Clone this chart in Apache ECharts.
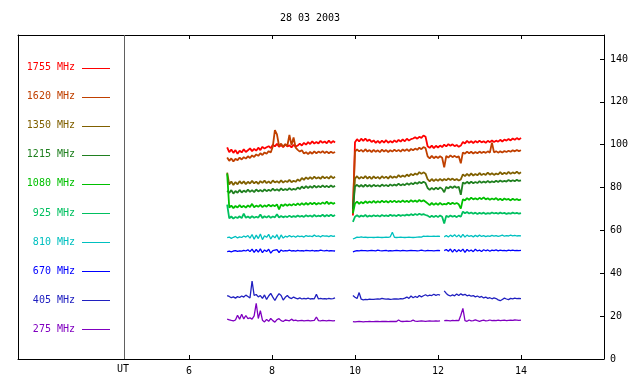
<!DOCTYPE html>
<html>
<head>
<meta charset="utf-8">
<script src="https://cdn.jsdelivr.net/npm/echarts@6/dist/echarts.min.js"></script>
<style>html,body{margin:0;padding:0;background:#fff}#c{width:640px;height:384px}</style>
</head>
<body>
<div id="c"></div>
<script>
// ---- data ----
const TITLE = '28 03 2003';
const X_TICKS = [6, 8, 10, 12, 14];
const Y_TICKS = [0, 20, 40, 60, 80, 100, 120, 140];
const UT_LINE = 4.44;
const SEG1_START = 6.92, SEG2_START = 9.95, STEP = 0.05; // sample times (hours UT)

const names = ['1755 MHz','1620 MHz','1350 MHz','1215 MHz','1080 MHz','925 MHz','810 MHz','670 MHz','405 MHz','275 MHz'];
const colors = ['#ff0000','#c04000','#806000','#208020','#00c000','#00c060','#00c0c0','#0000ff','#2020c0','#8000c0'];

const s1755a = [98.8,96.5,97.8,96.2,97.5,95.8,97.2,96.4,97.9,96.6, 97.4,98.3,97.0,98.1,97.2,98.6,97.5,99.0,98.2,98.8, 99.3,98.4,100.0,99.2,100.4,99.0,99.8,98.9,100.1,99.2, 99.7,98.8,99.9,99.1,99.6,100.5,99.6,100.9,100.0,101.2, 100.3,101.6,100.5,101.3,100.6,101.8,100.9,101.5,100.7,101.9, 100.8,101.7,101.0];
const s1755b = [67,101.2,102.6,101.5,102.8,101.8,102.9,101.7,102.4,101.3, 102.0,100.9,101.8,100.8,101.9,101.0,102.1,100.9,101.7,101.0, 102.0,101.2,102.3,101.4,102.5,101.6,102.8,101.9,102.6,102.9, 103.5,102.8,103.7,103.2,104.3,103.7,99.3,98.5,99.6,98.4, 99.5,98.7,99.6,98.9,100.0,99.2,100.3,99.5,100.2,99.3, 99.9,99.0,99.6,101.3,100.6,101.8,100.9,101.6,100.8,101.7, 101.0,101.9,101.1,101.6,100.9,101.8,101.2,102.0,101.3,101.9, 101.4,102.3,101.5,102.4,101.9,102.7,102.0,102.9,102.3,103.1, 102.4,103.2];

const s1620a = [94.0,92.5,93.6,92.2,93.4,92.8,94.0,93.1,94.2,93.5, 94.6,93.8,95.0,94.3,95.5,94.8,96.0,95.2,96.4,95.8, 97.0,96.4,99.2,106.8,104.8,99.4,100.5,99.1,100.3,99.5, 104.6,99.8,103.4,98.6,97.6,96.8,97.4,95.9,96.5,95.6, 96.6,95.8,96.9,96.0,96.8,96.2,97.0,96.1,96.8,96.0, 96.7,96.1,96.6];
const s1620b = [70,96.8,97.8,96.9,97.6,96.7,97.9,96.8,97.5,96.6, 97.6,96.7,97.4,96.5,97.7,96.8,97.5,96.6,97.4,96.8, 97.7,96.9,97.6,96.8,97.8,97.1,97.9,97.0,98.0,97.4, 98.2,97.6,98.6,97.9,98.9,98.4,94.6,93.6,94.8,93.7, 94.5,93.8,94.6,93.9,89.4,94.8,94.0,95.0,94.2,94.8, 94.1,94.6,91.3,96.4,95.8,96.8,96.0,96.7,95.9,96.6, 96.0,96.8,96.1,96.7,96.2,96.9,96.3,101.0,96.4,97.0, 96.3,96.9,96.4,97.1,96.6,97.2,96.7,97.4,96.9,97.5, 97.0,97.4];

const s1350a = [87.0,81.4,82.8,81.2,82.6,81.5,83.0,81.8,82.9,81.6, 82.7,81.9,83.1,82.0,82.8,81.7,83.0,82.2,83.2,82.1, 82.9,82.0,83.3,82.4,83.0,82.2,83.4,82.3,83.1,82.6, 83.6,82.5,83.2,82.7,83.8,83.1,84.5,83.6,84.8,83.9, 84.9,84.0,85.1,84.2,84.8,84.1,85.2,84.3,85.0,84.2, 85.3,84.4,85.0];
const s1350b = [68,84.2,85.3,84.1,85.0,84.3,85.4,84.2,85.1,84.0, 85.2,84.3,85.0,84.1,85.3,84.4,85.1,84.2,85.4,84.5, 85.2,84.6,85.8,84.9,85.6,85.0,86.1,85.3,86.4,85.7, 86.6,86.0,87.2,86.4,87.1,86.5,83.9,82.9,84.0,83.0, 83.9,83.1,84.1,83.2,84.0,83.4,84.3,83.5,84.2,83.4, 84.0,83.3,83.8,86.2,85.3,86.4,85.5,86.6,85.6,86.3, 85.7,86.8,85.8,86.5,85.9,87.0,86.0,86.7,85.9,86.6, 86.1,87.2,86.2,86.9,86.3,87.3,86.4,87.1,86.6,87.4, 86.5,87.1];

const s1215a = [78.6,77.5,78.8,77.2,78.4,77.6,78.9,77.7,78.6,77.9, 79.0,78.0,78.8,77.9,79.1,78.2,78.9,78.1,79.2,78.3, 79.0,78.4,79.5,78.6,79.2,78.5,79.6,78.7,79.3,78.8, 79.7,78.9,79.4,79.0,80.0,79.3,80.5,79.6,80.7,79.8, 80.6,79.9,80.9,80.0,80.7,80.1,81.0,80.2,80.8,80.1, 81.0,80.3,80.8];
const s1215b = [70,80.5,81.3,80.4,81.2,80.3,81.4,80.5,81.2,80.4, 81.3,80.6,81.1,80.5,81.4,80.7,81.2,80.6,81.5,80.8, 81.4,80.9,81.8,81.0,81.6,81.1,82.0,81.3,82.1,81.5, 82.4,81.8,82.6,82.0,82.7,82.1,79.8,78.9,79.9,79.0, 80.0,79.2,80.1,79.4,77.8,80.3,79.6,80.5,79.8,80.6, 79.9,80.4,76.6,82.4,81.8,82.7,81.9,82.8,82.0,82.6, 82.1,83.0,82.2,82.8,82.3,83.1,82.4,82.9,82.5,83.2, 82.6,83.3,82.7,83.1,82.8,83.5,82.9,83.4,83.0,83.6, 83.1,83.4];

const s1080a = [86.5,70.6,71.6,70.4,71.4,70.7,71.8,70.8,71.5,70.6, 71.7,70.9,72.4,70.8,71.6,71.0,71.9,70.9,71.7,71.1, 72.0,71.2,71.9,71.3,72.2,69.8,72.1,71.4,72.3,71.5, 72.2,71.6,72.4,71.7,72.6,71.8,72.7,71.9,72.8,72.0, 72.9,72.2,73.0,72.1,72.8,72.3,73.1,72.4,73.4,72.3, 73.0,72.4,72.9];
const s1080b = [68,72.5,73.4,72.4,73.3,72.6,73.6,72.8,73.5,72.9, 73.8,72.9,73.6,73.0,73.9,73.1,73.7,73.0,73.8,73.2, 73.9,73.1,73.7,73.2,74.0,73.3,73.8,73.2,74.1,73.4, 74.0,73.3,74.2,73.5,74.1,73.4,72.6,71.8,72.8,71.9, 72.7,71.9,72.9,72.0,72.4,72.1,73.0,72.2,72.9,72.3, 72.8,72.2,70.2,74.6,74.0,75.1,74.3,75.3,74.5,75.0, 74.4,75.2,74.6,75.4,74.5,75.0,74.3,74.9,74.4,75.1, 74.2,74.8,74.1,74.9,74.3,74.7,74.0,74.8,74.2,74.6, 74.1,74.5];

const s925a = [72.0,65.6,66.5,65.5,66.3,65.8,66.6,65.7,67.8,65.9, 66.5,65.8,66.7,65.9,66.4,66.0,67.4,65.8,66.6,66.0, 66.8,65.9,66.5,66.1,67.5,66.0,66.7,66.1,66.6,66.2, 66.9,66.2,66.7,66.3,67.0,66.4,66.8,66.3,67.1,66.5, 67.0,66.4,67.2,66.5,66.9,66.6,67.3,66.5,67.2,66.6, 67.4,66.6,67.2];
const s925b = [64.0,66.4,67.1,66.3,67.0,66.5,67.2,66.4,66.9,66.5, 67.1,66.6,67.0,66.5,67.2,66.7,67.0,66.6,67.3,66.8, 67.1,66.7,67.3,66.8,67.2,66.9,67.4,67.0,67.6,67.1, 67.7,67.2,67.8,67.3,67.6,67.2,66.9,66.2,66.8,66.3, 66.9,66.2,67.0,66.4,63.2,66.9,66.3,67.0,66.4,66.8, 66.2,66.9,66.4,68.8,68.0,68.6,67.9,68.4,67.8,68.3, 67.7,68.2,67.8,68.3,67.7,68.1,67.8,68.4,67.9,68.2, 67.8,68.3,67.9,68.2,67.7,68.1,67.8,68.3,67.9,68.2, 67.8,68.1];

const s810a = [56.6,56.9,56.3,56.8,57.2,56.5,57.0,56.7,57.4,56.9, 57.6,56.4,58.1,55.9,57.8,56.2,58.3,55.7,57.5,56.8, 58.2,56.0,57.6,56.5,58.0,55.8,57.9,56.4,57.3,56.9, 57.6,57.0,57.4,56.8,57.5,57.1,57.3,56.9,57.6,57.2, 57.4,57.1,57.8,57.2,57.5,57.0,57.6,57.3,57.5,57.1, 57.6,57.2,57.4];
const s810b = [56.0,56.4,56.9,56.8,57.0,56.8,56.9,56.7,56.8,56.8, 56.7,56.8,56.9,56.8,56.7,56.8,56.9,56.8,57.0,59.2, 56.8,56.7,56.8,56.9,56.8,56.7,56.8,56.9,56.8,56.7, 56.8,56.9,57.0,56.9,57.3,57.2,57.3,57.2,57.2,57.3, 57.2,57.3,57.2,null,57.0,57.6,56.9,57.8,57.1,58.0, 57.0,57.9,56.8,58.2,56.9,57.8,57.2,57.6,57.0,57.7, 57.1,57.8,57.2,57.6,57.1,57.5,57.2,57.7,57.3,57.6, 57.2,57.5,57.8,57.3,57.6,57.4,57.8,57.5,57.7,57.4, 57.6,57.5];

const s670a = [50.1,50.3,50.0,50.4,50.6,50.2,50.5,50.3,50.7,50.4, 51.0,50.1,51.3,49.8,51.1,49.9,51.4,49.6,50.9,50.2, 51.2,49.4,50.6,50.8,51.0,49.7,50.9,50.3,50.6,50.5, 50.8,50.4,50.6,50.3,50.7,50.5,50.6,50.4,50.7,50.6, 50.5,50.7,50.4,50.6,50.5,50.8,50.6,50.5,50.7,50.4, 50.6,50.5,50.4];
const s670b = [50.0,50.3,50.6,50.5,50.7,50.6,50.6,50.5,50.6,50.7, 50.6,50.5,50.8,50.6,50.5,50.6,50.7,50.4,50.6,50.5, 50.6,50.7,50.6,50.5,50.7,50.6,50.5,50.6,50.7,50.6, 50.6,50.5,50.6,50.8,50.6,50.5,50.7,50.6,50.6,50.5, 50.6,50.7,50.6,null,50.6,51.1,50.3,51.3,49.9,51.2, 50.0,51.0,50.2,51.3,49.8,51.1,50.3,50.9,50.1,51.2, 50.4,50.8,50.2,51.0,50.5,50.9,50.3,50.8,50.6,50.9, 50.5,50.8,50.6,50.7,50.5,50.8,50.6,50.8,50.6,50.7, 50.6,50.7];

const s405a = [29.6,29.2,28.6,29.0,28.4,29.1,28.7,29.4,28.9,29.8, 29.2,28.5,36.4,29.7,30.1,29.0,29.6,28.3,29.9,27.8, 29.4,30.6,28.9,27.3,29.1,30.5,29.6,27.5,28.8,29.6, 28.6,28.2,28.9,28.4,28.1,28.5,28.0,28.3,28.1,28.4, 28.0,28.2,28.1,30.2,28.0,28.3,28.1,28.2,28.0,28.3, 28.1,28.2,28.5];
const s405b = [29.6,28.8,28.2,31.0,27.9,27.6,27.8,27.7,27.9,27.8, 27.8,27.9,28.0,27.9,28.3,28.1,27.9,28.0,27.8,27.9, 28.1,28.0,27.9,28.2,28.1,28.4,28.9,28.3,29.4,28.6, 29.2,28.7,29.6,29.0,29.5,30.0,29.4,29.8,29.6,30.2, 29.7,30.1,29.8,null,31.8,30.6,29.8,29.4,29.9,29.5, 30.3,29.6,30.4,29.8,30.2,29.5,29.8,29.3,29.6,29.0, 29.4,28.8,29.2,28.5,28.9,28.3,28.6,28.1,28.5,28.2, 27.6,27.2,27.8,28.4,28.0,27.7,28.3,28.1,28.4,28.2, 28.3,28.2];

const s275a = [18.6,18.3,18.0,17.8,18.2,20.4,18.6,20.9,18.7,20.3, 18.8,19.2,18.6,20.1,26.0,18.9,22.6,18.1,17.3,18.5, 17.6,18.9,17.9,17.2,18.4,18.8,17.9,17.5,18.2,18.0, 17.8,18.6,17.9,18.1,17.8,17.9,18.0,17.8,17.9,18.0, 17.8,17.9,18.0,19.6,17.9,17.8,18.0,17.9,17.8,18.0, 17.9,17.8,17.9];
const s275b = [17.4,17.3,17.4,17.5,17.4,17.3,17.4,17.4,17.5,17.4, 17.4,17.6,17.5,17.4,17.5,17.6,17.5,17.4,17.5,17.5, 17.6,17.5,18.2,17.6,17.5,17.6,17.7,17.6,17.7,18.1, 17.7,17.6,17.7,17.8,17.7,17.6,17.7,17.8,17.7,17.7, 17.8,17.7,17.8,null,17.9,18.0,17.9,17.8,18.0,17.9, 18.0,17.9,20.4,23.6,17.9,17.6,18.2,17.8,17.9,18.3, 17.9,17.6,17.9,18.1,17.8,17.9,18.2,17.9,18.0,17.9, 18.1,17.9,18.0,18.1,17.9,18.0,18.1,18.0,18.2,18.1, 18.0,18.1];

const segA = [s1755a,s1620a,s1350a,s1215a,s1080a,s925a,s810a,s670a,s405a,s275a];
const segB = [s1755b,s1620b,s1350b,s1215b,s1080b,s925b,s810b,s670b,s405b,s275b];

// ---- chart ----
const FONT = 'DejaVu Sans Mono';
function build(a, b) {
  const out = [];
  a.forEach((v, i) => out.push([+(SEG1_START + i * STEP).toFixed(3), v == null ? '-' : v]));
  out.push([9.75, '-']);
  b.forEach((v, i) => out.push([+(SEG2_START + i * STEP).toFixed(3), v == null ? '-' : v]));
  return out;
}
const series = names.map((n, k) => ({
  name: n, type: 'line', xAxisIndex: 0, yAxisIndex: 0,
  data: build(segA[k], segB[k]),
  symbol: 'none', showSymbol: false, connectNulls: false,
  lineStyle: { color: colors[k], width: k < 6 ? 1.8 : 1.3 }, itemStyle: { color: colors[k] },
  z: 2 + k, silent: true
}));
series[0].markLine = {
  silent: true, symbol: 'none', animation: false,
  label: { show: false },
  lineStyle: { color: '#606060', type: 'solid', width: 1 },
  data: [{ xAxis: UT_LINE }]
};

const graphics = [
  { type: 'text', id: 'title', x: 310, y: 18, style: { text: TITLE, fill: '#000', font: '10px ' + FONT, align: 'center', verticalAlign: 'middle' } },
  { type: 'text', id: 'ut', x: 123, y: 369, style: { text: 'UT', fill: '#000', font: '10px ' + FONT, align: 'center', verticalAlign: 'middle' } }
];
names.forEach((n, k) => {
  const y = 67.5 + k * 29.1;
  graphics.push({ type: 'text', id: 'lt' + k, x: 75, y: y, style: { text: n, fill: colors[k], font: '10px ' + FONT, align: 'right', verticalAlign: 'middle' } });
  graphics.push({ type: 'rect', id: 'lr' + k, shape: { x: 82, y: Math.round(y), width: 28, height: 1 }, style: { fill: colors[k], stroke: null } });
});

const axisCommon = { lineStyle: { color: '#000', width: 1 } };
const chart = echarts.init(document.getElementById('c'), null, { renderer: 'canvas' });
chart.setOption({
  animation: false,
  backgroundColor: '#fff',
  grid: { left: 18, right: 36, top: 35, bottom: 25, containLabel: false },
  xAxis: [
    { type: 'value', position: 'bottom', min: 1.88, max: 16,
      axisLine: { show: true, onZero: false, ...axisCommon },
      axisTick: { show: true, inside: true, length: 4, customValues: X_TICKS, lineStyle: { color: '#000' } },
      axisLabel: { show: true, customValues: X_TICKS, margin: 7, color: '#000', fontFamily: FONT, fontSize: 10 },
      splitLine: { show: false } },
    { type: 'value', position: 'top', min: 1.88, max: 16,
      axisLine: { show: true, onZero: false, ...axisCommon },
      axisTick: { show: true, inside: true, length: 4, customValues: X_TICKS, lineStyle: { color: '#000' } },
      axisLabel: { show: false },
      splitLine: { show: false } }
  ],
  yAxis: [
    { type: 'value', position: 'right', min: 0, max: 151.2,
      axisLine: { show: true, onZero: false, ...axisCommon },
      axisTick: { show: true, inside: true, length: 4, customValues: Y_TICKS, lineStyle: { color: '#000' } },
      axisLabel: { show: true, customValues: Y_TICKS, margin: 6, color: '#000', fontFamily: FONT, fontSize: 10 },
      splitLine: { show: false } },
    { type: 'value', position: 'left', min: 0, max: 151.2,
      axisLine: { show: true, onZero: false, ...axisCommon },
      axisTick: { show: false }, axisLabel: { show: false }, splitLine: { show: false } }
  ],
  series: series,
  graphic: graphics
});
</script>
</body>
</html>
